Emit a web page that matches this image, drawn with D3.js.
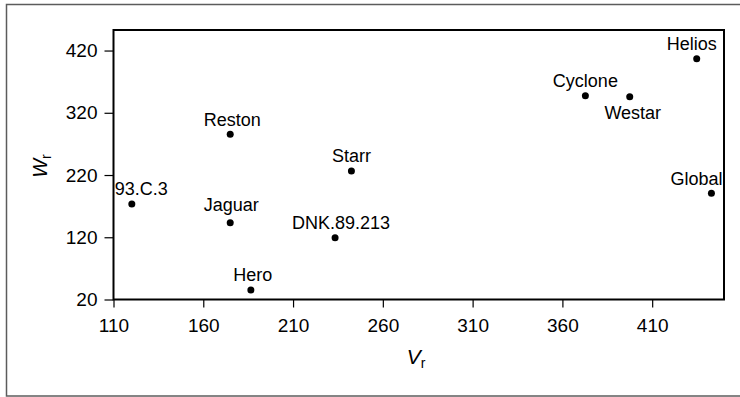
<!DOCTYPE html>
<html>
<head>
<meta charset="utf-8">
<script src="https://cdn.jsdelivr.net/npm/d3@7"></script>
<style>
  body { margin: 0; background: #fff; }
  svg { display: block; font-family: "Liberation Sans", Arial, sans-serif; }
</style>
</head>
<body>
<div id="chart"></div>
<script>
// data
const names = ["Helios", "Cyclone", "Westar", "Global", "Reston", "Starr", "93.C.3", "Jaguar", "DNK.89.213", "Hero"];
const vr = [434.8, 372.8, 397.5, 443, 175, 242.5, 120.2, 175, 233.4, 186.5];
const wr = [406.8, 347.4, 345.8, 190.6, 285.4, 226.4, 173.4, 143.4, 119.3, 35.3];
const xTicks = [110, 160, 210, 260, 310, 360, 410];
const yTicks = [20, 120, 220, 320, 420];

// label placement relative to each dot
const labelPlace = {
  "Helios": { anchor: "middle", dx: -5, dy: -9 },
  "Cyclone": { anchor: "middle", dx: 0, dy: -9 },
  "Westar": { anchor: "middle", dx: 3, dy: 22 },
  "Global": { anchor: "end", dx: 11, dy: -8.5 },
  "Reston": { anchor: "middle", dx: 2, dy: -8.5 },
  "Starr": { anchor: "middle", dx: 0, dy: -9 },
  "93.C.3": { anchor: "start", dx: -17, dy: -9 },
  "Jaguar": { anchor: "middle", dx: 1, dy: -12 },
  "DNK.89.213": { anchor: "middle", dx: 6, dy: -9 },
  "Hero": { anchor: "middle", dx: 2, dy: -9 }
};

const W = 740, H = 397;
const margin = { top: 30, right: 16, bottom: 97.5, left: 113.5 };
const width = W - margin.left - margin.right;
const height = H - margin.top - margin.bottom;

const svg = d3.select("#chart").append("svg")
  .attr("width", W)
  .attr("height", H);

// outer frame (right side runs off the picture)
svg.append("rect")
  .attr("x", 6.5).attr("y", 4.5)
  .attr("width", 740).attr("height", 391.5)
  .attr("fill", "none")
  .attr("stroke", "#5c5c5c")
  .attr("stroke-width", 1.5);

const g = svg.append("g")
  .attr("transform", `translate(${margin.left},${margin.top})`);

const x = d3.scaleLinear().domain([110, 450]).range([0, width]);
const y = d3.scaleLinear().domain([20, 453]).range([height, 0]);

// x axis
const xAxis = g.append("g")
  .attr("transform", `translate(0,${height})`)
  .call(d3.axisBottom(x).tickValues(xTicks).tickSize(8).tickPadding(11).tickFormat(d3.format("d")));
xAxis.select(".domain").remove();
xAxis.selectAll("line").attr("stroke", "#000").attr("stroke-width", 1.2);
xAxis.selectAll("text").attr("font-size", 19).attr("fill", "#000")
  .attr("font-family", "Liberation Sans, Arial, sans-serif");

// y axis
const yAxis = g.append("g")
  .call(d3.axisLeft(y).tickValues(yTicks).tickSize(9).tickPadding(7).tickFormat(d3.format("d")));
yAxis.select(".domain").remove();
yAxis.selectAll("line").attr("stroke", "#000").attr("stroke-width", 1.2);
yAxis.selectAll("text").attr("font-size", 19).attr("fill", "#000")
  .attr("font-family", "Liberation Sans, Arial, sans-serif");

// plot frame
g.append("rect")
  .attr("x", 0).attr("y", 0)
  .attr("width", width).attr("height", height)
  .attr("fill", "none")
  .attr("stroke", "#000")
  .attr("stroke-width", 2);

// points
const pts = names.map((n, i) => ({ name: n, v: vr[i], w: wr[i] }));

g.selectAll("circle.pt")
  .data(pts)
  .enter()
  .append("circle")
  .attr("class", "pt")
  .attr("cx", d => x(d.v))
  .attr("cy", d => y(d.w))
  .attr("r", 3.5)
  .attr("fill", "#000");

g.selectAll("text.lbl")
  .data(pts)
  .enter()
  .append("text")
  .attr("class", "lbl")
  .attr("x", d => x(d.v) + labelPlace[d.name].dx)
  .attr("y", d => y(d.w) + labelPlace[d.name].dy)
  .attr("text-anchor", d => labelPlace[d.name].anchor)
  .attr("font-size", 18)
  .attr("fill", "#000")
  .text(d => d.name);

// axis titles
const xt = svg.append("text")
  .attr("x", 416).attr("y", 364)
  .attr("text-anchor", "middle")
  .attr("font-size", 21)
  .attr("fill", "#000");
xt.append("tspan").attr("font-style", "italic").text("V");
xt.append("tspan").attr("font-size", 14).attr("dy", 4).text("r");

const yt = svg.append("text")
  .attr("transform", "translate(47,166) rotate(-90)")
  .attr("text-anchor", "middle")
  .attr("font-size", 20)
  .attr("fill", "#000");
yt.append("tspan").attr("font-style", "italic").text("W");
yt.append("tspan").attr("font-size", 14).attr("dy", 4).text("r");
</script>
</body>
</html>
